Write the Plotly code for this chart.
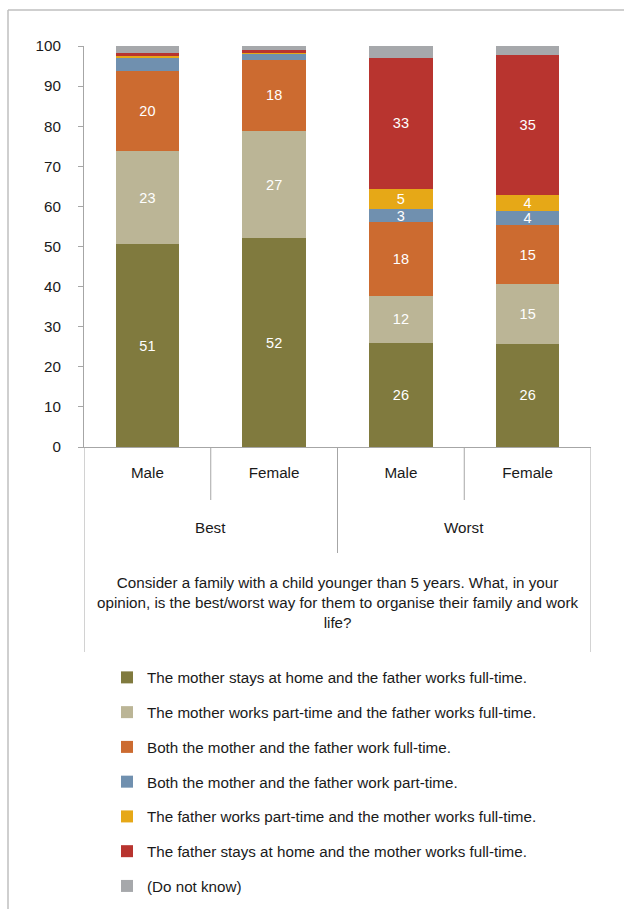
import plotly.graph_objects as go

# ---------------- data ----------------
groups = ["Best", "Best", "Worst", "Worst"]
genders = ["Male", "Female", "Male", "Female"]

series_names = [
    "The mother stays at home and the father works full-time.",
    "The mother works part-time and the father works full-time.",
    "Both the mother and the father work full-time.",
    "Both the mother and the father work part-time.",
    "The father works part-time and the mother works full-time.",
    "The father stays at home and the mother works full-time.",
    "(Do not know)",
]
mother_home = [50.6, 52.1, 25.9, 25.7]
mother_part = [23.2, 26.7, 11.8, 14.9]
both_full = [20.0, 17.8, 18.3, 14.8]
both_part = [3.2, 1.5, 3.4, 3.5]
father_part = [0.6, 0.4, 4.9, 3.9]
father_home = [0.7, 0.4, 32.8, 35.0]
dont_know = [1.7, 1.1, 3.0, 2.3]

# which bars carry a value label
mother_home_lbl = [True, True, True, True]
mother_part_lbl = [True, True, True, True]
both_full_lbl = [True, True, True, True]
both_part_lbl = [False, False, True, True]
father_part_lbl = [False, False, True, True]
father_home_lbl = [False, False, True, True]
dont_know_lbl = [False, False, False, False]

colors = ["#807A3E", "#BBB596", "#CC6B30", "#7090AF", "#E6A817", "#B8342F", "#A6A8AB"]

y_ticks = [0, 10, 20, 30, 40, 50, 60, 70, 80, 90, 100]
question = ("Consider a family with a child younger than 5 years. What, in your<br>"
            "opinion, is the best/worst way for them to organise their family and work<br>"
            "life?")

# ---------------- figure ----------------
FONT = "Liberation Sans, Arial, sans-serif"
FS = 15.2
BAR_FS = 14.5
TXT = "#1a1a1a"
GRID = "#A6A6A6"
W, H = 624, 909
L, R, T, B = 84, 33, 46, 462
PW, PH = W - L - R, H - T - B


def px_x(px):
    return (px - L) / PW


def px_y(py):
    return (H - B - py) / PH


cats = [f"{g} {s}" for g, s in zip(groups, genders)]
all_vals = [mother_home, mother_part, both_full, both_part, father_part, father_home, dont_know]
all_lbls = [mother_home_lbl, mother_part_lbl, both_full_lbl, both_part_lbl,
            father_part_lbl, father_home_lbl, dont_know_lbl]

fig = go.Figure()
for i, (name, vals, lbls) in enumerate(zip(series_names, all_vals, all_lbls)):
    fig.add_trace(go.Bar(
        x=cats, y=vals, name=name,
        marker=dict(color=colors[i], line=dict(width=0)),
        text=[str(round(v)) if s else "" for v, s in zip(vals, lbls)],
        textposition="inside", insidetextanchor="middle", textangle=0,
        textfont=dict(color="white", size=BAR_FS, family=FONT),
        legendgroup=f"g{i}",
        hoverinfo="name+y",
    ))

shapes = []
line_style = dict(color="#BFBFBF", width=1.5)
# outer frame (top and left)
shapes.append(dict(type="line", xref="paper", yref="paper",
                   x0=px_x(8), x1=px_x(W + 5), y0=px_y(10), y1=px_y(10), line=line_style))
shapes.append(dict(type="line", xref="paper", yref="paper",
                   x0=px_x(8), x1=px_x(8), y0=px_y(10), y1=px_y(H + 5), line=line_style))
# category dividers
div_style = dict(color=GRID, width=1)
for xv, ybot in [(-0.5, 652), (0.5, 500), (1.5, 553), (2.5, 500), (3.5, 652)]:
    shapes.append(dict(type="line", xref="x", yref="paper", x0=xv, x1=xv,
                       y0=0, y1=px_y(ybot), line=div_style))

annotations = []
for grp, xc in [("Best", 0.5), ("Worst", 2.5)]:
    annotations.append(dict(text=grp, xref="x", yref="paper", x=xc, y=px_y(527),
                            showarrow=False, xanchor="center", yanchor="middle",
                            font=dict(size=FS, family=FONT, color=TXT)))
annotations.append(dict(text=question, xref="paper", yref="paper", x=0.5, y=px_y(602),
                        showarrow=False, xanchor="center", yanchor="middle", align="center",
                        font=dict(size=FS, family=FONT, color=TXT)))

fig.update_layout(
    width=W, height=H,
    margin=dict(l=L, r=R, t=T, b=B, pad=0, autoexpand=False),
    barmode="stack", bargap=0.5,
    paper_bgcolor="white", plot_bgcolor="white",
    font=dict(family=FONT, size=FS, color=TXT),
    showlegend=True,
    legend=dict(x=px_x(107), y=px_y(661), xanchor="left", yanchor="top",
                traceorder="grouped", tracegroupgap=12,
                font=dict(size=FS, family=FONT, color=TXT),
                bgcolor="rgba(0,0,0,0)", borderwidth=0),
    shapes=shapes,
    annotations=annotations,
    xaxis=dict(type="category", tickvals=cats, ticktext=genders,
               showline=True, linecolor=GRID, linewidth=1, ticks="",
               showgrid=False, zeroline=False, ticklabelstandoff=12,
               tickfont=dict(size=FS, family=FONT, color=TXT),
               range=[-0.5, 3.5], fixedrange=True),
    yaxis=dict(range=[0, 100], tickvals=y_ticks, showline=True, linecolor=GRID, linewidth=1,
               ticks="outside", ticklen=5, tickcolor=GRID, showgrid=False, zeroline=False,
               ticklabelstandoff=14,
               tickfont=dict(size=FS, family=FONT, color=TXT), fixedrange=True),
    uniformtext=dict(minsize=BAR_FS, mode="show"),
)

fig.write_html("out.html")
